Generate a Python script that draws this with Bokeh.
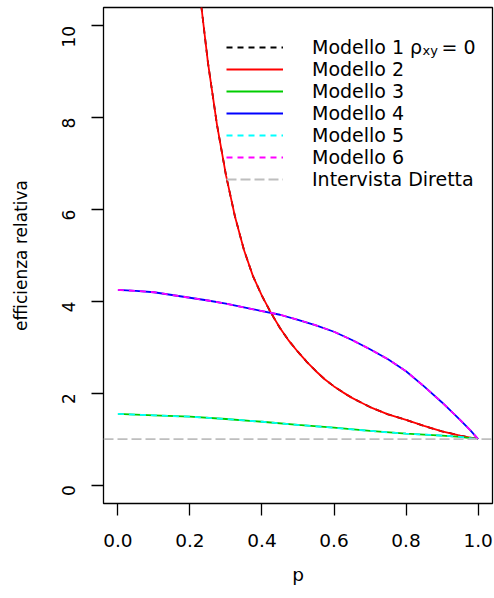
import math
from bokeh.plotting import figure
from bokeh.models import Legend, LegendItem, Label, FixedTicker, Range1d
from bokeh.embed import file_html
from bokeh.resources import INLINE

# ---- data ----
# Modello 2 (red); Modello 1 (rho_xy = 0, black dashed) coincides with it
p_mod2 = [0.20, 0.232, 0.25, 0.275, 0.30, 0.325, 0.35, 0.375, 0.40, 0.425, 0.45, 0.475,
          0.50, 0.525, 0.55, 0.575, 0.60, 0.625, 0.65, 0.675, 0.70, 0.75, 0.80, 0.85,
          0.90, 0.95, 1.00]
v_mod2 = [13.3, 10.4, 9.2, 7.85, 6.75, 5.85, 5.12, 4.55, 4.12, 3.75, 3.42, 3.14,
          2.90, 2.68, 2.48, 2.30, 2.15, 2.02, 1.90, 1.80, 1.70, 1.54, 1.42, 1.29,
          1.17, 1.08, 1.00]
p_mod1 = p_mod2
v_mod1 = v_mod2

# Modello 3 (green); Modello 5 (cyan dashed) coincides with it
p_mod3 = [0.0, 0.1, 0.2, 0.3, 0.4, 0.5, 0.6, 0.7, 0.8, 0.9, 0.95, 1.0]
v_mod3 = [1.55, 1.52, 1.49, 1.44, 1.38, 1.31, 1.25, 1.18, 1.12, 1.08, 1.05, 1.00]
p_mod5 = p_mod3
v_mod5 = v_mod3

# Modello 4 (blue); Modello 6 (magenta dashed) coincides with it
p_mod4 = [0.00, 0.05, 0.10, 0.15, 0.20, 0.25, 0.30, 0.35, 0.40, 0.45, 0.50, 0.55,
          0.60, 0.65, 0.70, 0.75, 0.80, 0.85, 0.90, 0.95, 0.98, 1.00]
v_mod4 = [4.25, 4.23, 4.20, 4.14, 4.08, 4.02, 3.95, 3.87, 3.79, 3.71, 3.60, 3.48,
          3.34, 3.16, 2.96, 2.74, 2.48, 2.15, 1.80, 1.42, 1.18, 1.00]
p_mod6 = p_mod4
v_mod6 = v_mod4

# Intervista Diretta reference level
diretta_level = 1.0

legend_labels = ["Modello 1 ρ", "Modello 2", "Modello 3", "Modello 4",
                 "Modello 5", "Modello 6", "Intervista Diretta"]
x_ticks = [0.0, 0.2, 0.4, 0.6, 0.8, 1.0]
x_tick_labels = ["0.0", "0.2", "0.4", "0.6", "0.8", "1.0"]
y_ticks = [0, 2, 4, 6, 8, 10]
y_tick_labels = ["0", "2", "4", "6", "8", "10"]
x_lim = (-0.04, 1.04)
y_lim = (-0.4, 10.4)

FONT = "DejaVu Sans"

p = figure(width=494, height=598, output_backend="svg", toolbar_location=None,
           x_range=Range1d(*x_lim), y_range=Range1d(*y_lim),
           min_border_left=103, min_border_right=2, min_border_top=7, min_border_bottom=95)
p.background_fill_color = "white"
p.border_fill_color = "white"
p.grid.visible = False
p.outline_line_color = "black"
p.outline_line_width = 1.3

LW = 1.8
r1 = p.line(p_mod1, v_mod1, line_color="black", line_width=LW, line_dash="6 5")
r2 = p.line(p_mod2, v_mod2, line_color="#FF0000", line_width=LW)
r3 = p.line(p_mod3, v_mod3, line_color="#00CD00", line_width=LW)
r4 = p.line(p_mod4, v_mod4, line_color="#0000FF", line_width=LW)
r5 = p.line(p_mod5, v_mod5, line_color="#00FFFF", line_width=LW, line_dash="6 5")
r6 = p.line(p_mod6, v_mod6, line_color="#FF00FF", line_width=LW, line_dash="6 5")
r7 = p.line(list(x_lim), [diretta_level, diretta_level], line_color="#BEBEBE",
            line_width=LW, line_dash="10 4")

# axes
for ax in (p.xaxis[0], p.yaxis[0]):
    ax.axis_line_color = None
    ax.major_tick_line_color = "black"
    ax.major_tick_line_width = 1.3
    ax.major_tick_in = 0
    ax.major_tick_out = 12
    ax.minor_tick_line_color = None
    ax.major_label_text_font = FONT
    ax.major_label_text_color = "black"
    ax.axis_label_text_font = FONT
    ax.axis_label_text_font_style = "normal"
    ax.axis_label_text_color = "black"

xa = p.xaxis[0]
xa.ticker = FixedTicker(ticks=x_ticks)
xa.major_label_overrides = {t: s for t, s in zip(x_ticks, x_tick_labels)}
xa.major_label_text_font_size = "18.5px"
xa.major_label_standoff = 18
xa.axis_label = "p"
xa.axis_label_text_font_size = "18.5px"
xa.axis_label_standoff = 14

ya = p.yaxis[0]
ya.ticker = FixedTicker(ticks=y_ticks)
ya.major_label_overrides = {t: s for t, s in zip(y_ticks, y_tick_labels)}
ya.major_label_text_font_size = "17px"
ya.major_label_orientation = math.pi / 2
ya.major_label_standoff = 23
ya.axis_label = "efficienza relativa"
ya.axis_label_text_font_size = "17px"
ya.axis_label_standoff = 22

items = [LegendItem(label=lab, renderers=[r]) for lab, r in
         zip(legend_labels, [r1, r2, r3, r4, r5, r6, r7])]
legend = Legend(items=items, location=(123, 313), orientation="vertical",
                padding=0, margin=0, spacing=0, glyph_width=57, glyph_height=22,
                label_height=22, label_standoff=29,
                label_text_font=FONT, label_text_font_size="19px",
                label_text_color="black",
                background_fill_alpha=0, border_line_alpha=0)
p.add_layout(legend)

# subscript and rest of the first legend label (rho_xy = 0)
p.add_layout(Label(x=319, y=453.4, x_units="screen", y_units="screen", text="xy",
                   text_font=FONT, text_font_size="13px", text_baseline="middle",
                   text_color="black"))
p.add_layout(Label(x=338, y=456.4, x_units="screen", y_units="screen", text="= 0",
                   text_font=FONT, text_font_size="19px", text_baseline="middle",
                   text_color="black"))

open("out.html", "w").write(file_html(p, INLINE))
